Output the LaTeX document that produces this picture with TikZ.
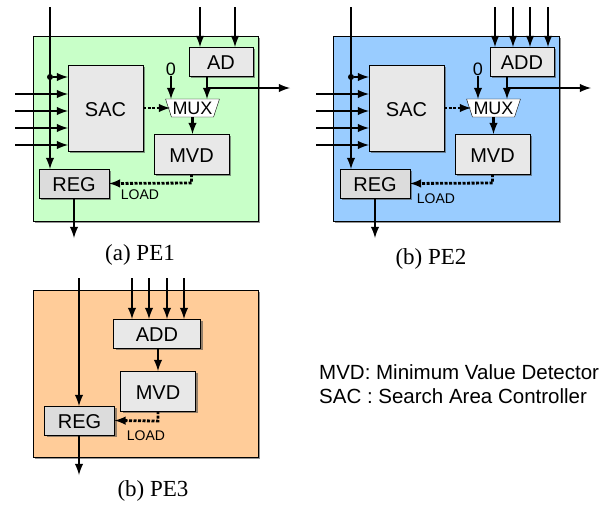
\documentclass[tikz,border=0pt]{standalone}
\usepackage{fontspec}
\setmainfont{Liberation Serif}
\setsansfont{Liberation Sans}
\usetikzlibrary{shapes.geometric,shadows}
\definecolor{pegreen}{HTML}{C8FFC8}
\definecolor{peblue}{HTML}{99CCFF}
\definecolor{peorange}{HTML}{FFCC99}
\definecolor{blockgray}{HTML}{E8E8E8}
\definecolor{reggray}{HTML}{DCDCDC}
\tikzset{
  pebox/.style={draw,line width=.8pt,outer sep=0,inner sep=0,drop shadow={shadow xshift=2pt,shadow yshift=-2pt,opacity=.6,fill=black!70}},
  blk/.style={pebox,fill=blockgray,text height=16.5pt,text depth=0pt,font=\sffamily\fontsize{20}{20}\selectfont},
  regblk/.style={blk,fill=reggray},
  muxblk/.style={draw,fill=white,trapezium,shape border rotate=180,trapezium angle=66,trapezium stretches=true,minimum height=18pt,minimum width=54pt,inner sep=0,outer sep=0,font=\sffamily\fontsize{18}{18}\selectfont},
  bus/.style={line width=2.8pt,-latex},
  ctrl/.style={line width=2.8pt,dash pattern=on 3pt off 1.5pt,-latex},
  dotjoin/.style={circle,fill=black,minimum size=6pt,inner sep=0},
  small/.style={font=\sffamily\fontsize{14}{14}\selectfont,inner sep=0},
  zero/.style={font=\sffamily\fontsize{18}{18}\selectfont,inner sep=0},
  caption/.style={font=\fontsize{23}{23}\selectfont,inner sep=0},
  legend/.style={font=\sffamily\fontsize{20.5}{20.5}\selectfont,inner sep=0,anchor=west}
}
\begin{document}
\begin{tikzpicture}[x=1pt,y=-1pt]
  \useasboundingbox (0,0) rectangle (608,504);
  % PE1
  \node[pebox,fill=pegreen,minimum width=225,minimum height=185] (P1) at (145.5,128.5) {};
  \node[blk,minimum width=75,minimum height=86] (SAC1) at (105.5,108) {SAC};
  \node[blk,minimum width=64,minimum height=29] (AD1) at (221,61.5) {AD};
  \node[muxblk] (MUX1) at (192.5,108) {MUX};
  \node[blk,minimum width=75,minimum height=40] (MVD1) at (191.5,154) {MVD};
  \node[regblk,minimum width=70,minimum height=29] (REG1) at (74,183.5) {REG};
  \node[dotjoin] (J1) at (50,77) {};
  \node[zero] (Z1) at (171,69) {0};
  \coordinate (T1) at (50,7);
  \coordinate (A1) at (200,7);
  \coordinate (A2) at (235,7);
  \coordinate (I1) at (15,94);
  \coordinate (I2) at (15,111);
  \coordinate (I3) at (15,128);
  \coordinate (I4) at (15,145);
  \coordinate (O1) at (207,88);
  \coordinate (E1) at (290,88);
  \coordinate (D1) at (74,238);
  \draw[bus] (T1) -- (T1 |- REG1.north);
  \draw[bus] (J1) -- (J1 -| SAC1.west);
  \draw[bus] (I1) -- (I1 -| SAC1.west);
  \draw[bus] (I2) -- (I2 -| SAC1.west);
  \draw[bus] (I3) -- (I3 -| SAC1.west);
  \draw[bus] (I4) -- (I4 -| SAC1.west);
  \draw[bus] (A1) -- (A1 |- AD1.north);
  \draw[bus] (A2) -- (A2 |- AD1.north);
  \draw[bus] (O1 |- AD1.south) -- (O1 |- MUX1.north);
  \draw[bus] (O1) -- (E1);
  \draw[bus] (Z1.south) -- (Z1 |- MUX1.north);
  \draw[ctrl] (SAC1.east |- MUX1) -- (170,108);
  \draw[bus] (MUX1.south) -- (MUX1 |- MVD1.north);
  \draw[ctrl] (MVD1.south) -- ++(0,9) -- (REG1.east);
  \draw[bus] (D1 |- REG1.south) -- (D1);
  \node[small] (L1) at (140,195) {LOAD};
  \node[caption] (C1) at (140,254.5) {(a) PE1};
  % PE2
  \node[pebox,fill=peblue,minimum width=226,minimum height=185] (P2) at (446,128.5) {};
  \node[blk,minimum width=75,minimum height=86] (SAC2) at (406.5,108) {SAC};
  \node[blk,minimum width=64,minimum height=29] (AD2) at (522,61.5) {ADD};
  \node[muxblk] (MUX2) at (493.5,108) {MUX};
  \node[blk,minimum width=75,minimum height=40] (MVD2) at (492.5,154) {MVD};
  \node[regblk,minimum width=70,minimum height=29] (REG2) at (375,183.5) {REG};
  \node[dotjoin] (J2) at (351,77) {};
  \node[zero] (Z2) at (478,69) {0};
  \coordinate (T2) at (351,7);
  \coordinate (B1) at (495,7);
  \coordinate (B2) at (513,7);
  \coordinate (B3) at (530,7);
  \coordinate (B4) at (548,7);
  \coordinate (K1) at (316,94);
  \coordinate (K2) at (316,111);
  \coordinate (K3) at (316,128);
  \coordinate (K4) at (316,145);
  \coordinate (O2) at (507,88);
  \coordinate (E2) at (591,88);
  \coordinate (D2) at (375,238);
  \draw[bus] (T2) -- (T2 |- REG2.north);
  \draw[bus] (J2) -- (J2 -| SAC2.west);
  \draw[bus] (K1) -- (K1 -| SAC2.west);
  \draw[bus] (K2) -- (K2 -| SAC2.west);
  \draw[bus] (K3) -- (K3 -| SAC2.west);
  \draw[bus] (K4) -- (K4 -| SAC2.west);
  \draw[bus] (B1) -- (B1 |- AD2.north);
  \draw[bus] (B2) -- (B2 |- AD2.north);
  \draw[bus] (B3) -- (B3 |- AD2.north);
  \draw[bus] (B4) -- (B4 |- AD2.north);
  \draw[bus] (O2 |- AD2.south) -- (O2 |- MUX2.north);
  \draw[bus] (O2) -- (E2);
  \draw[bus] (Z2.south) -- (Z2 |- MUX2.north);
  \draw[ctrl] (SAC2.east |- MUX2) -- (471,108);
  \draw[bus] (MUX2.south) -- (MUX2 |- MVD2.north);
  \draw[ctrl] (MVD2.south) -- ++(0,9) -- (REG2.east);
  \draw[bus] (D2 |- REG2.south) -- (D2);
  \node[small] (L2) at (436,199) {LOAD};
  \node[caption] (C2) at (431,258.5) {(b) PE2};
  % PE3
  \node[pebox,fill=peorange,minimum width=225,minimum height=167] (P3) at (145.5,373.5) {};
  \node[blk,minimum width=87,minimum height=29] (AD3) at (157,333.5) {ADD};
  \node[blk,minimum width=75,minimum height=40] (MVD3) at (158,391) {MVD};
  \node[regblk,minimum width=70,minimum height=29] (REG3) at (79.5,420.5) {REG};
  \coordinate (T3) at (79,278);
  \coordinate (F1) at (132,278);
  \coordinate (F2) at (149,278);
  \coordinate (F3) at (167,278);
  \coordinate (F4) at (184,278);
  \coordinate (D3) at (79,475);
  \draw[bus] (T3) -- (T3 |- REG3.north);
  \draw[bus] (F1) -- (F1 |- AD3.north);
  \draw[bus] (F2) -- (F2 |- AD3.north);
  \draw[bus] (F3) -- (F3 |- AD3.north);
  \draw[bus] (F4) -- (F4 |- AD3.north);
  \draw[bus] (MVD3 |- AD3.south) -- (MVD3.north);
  \draw[ctrl] (MVD3.south) -- ++(0,10) -- (REG3.east);
  \draw[bus] (D3 |- REG3.south) -- (D3);
  \node[small] (L3) at (146,436) {LOAD};
  \node[caption] (C3) at (153,490.5) {(b) PE3};
  % legend
  \node[legend] (M) at (319,372) {MVD: Minimum Value Detector};
  \node[legend] (S) at (319,396) {SAC : Search Area Controller};
\end{tikzpicture}
\end{document}
